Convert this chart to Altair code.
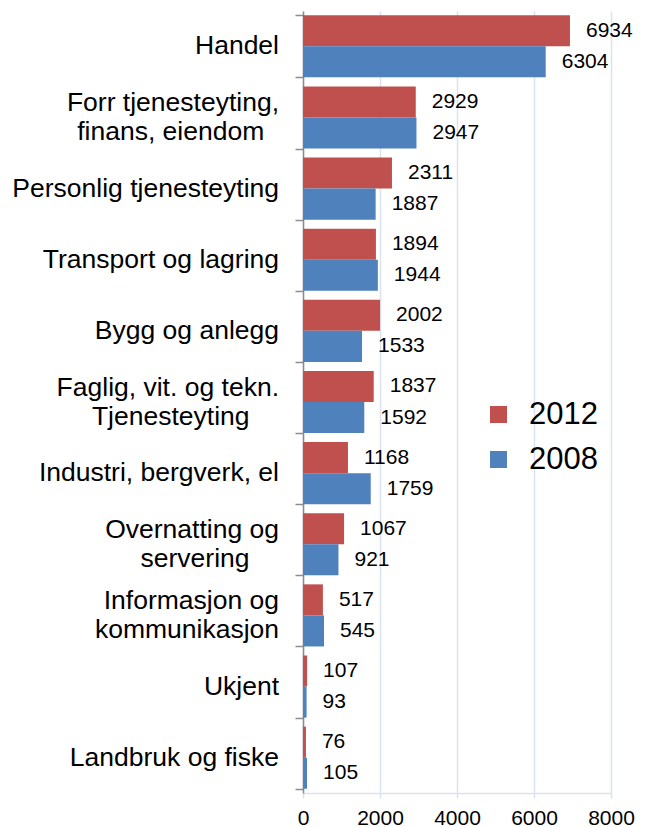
import altair as alt
import pandas as pd

PAD = "\u00a0"
END = "\u200b"
categories = [
    "Handel",
    "Forr tjenesteyting,\nfinans, eiendom" + PAD * 2 + END,
    "Personlig tjenesteyting",
    "Transport og lagring",
    "Bygg og anlegg",
    "Faglig, vit. og tekn.\nTjenesteyting" + PAD * 4 + END,
    "Industri, bergverk, el",
    "Overnatting og\nservering" + PAD * 4 + END,
    "Informasjon og\nkommunikasjon",
    "Ukjent",
    "Landbruk og fiske",
]
values_2012 = [6934, 2929, 2311, 1894, 2002, 1837, 1168, 1067, 517, 107, 76]
values_2008 = [6304, 2947, 1887, 1944, 1533, 1592, 1759, 921, 545, 93, 105]
series = ["2012", "2008"]
colors = ["#C0504D", "#4F81BD"]
x_ticks = [0, 2000, 4000, 6000, 8000]

rows = []
for c, a, b in zip(categories, values_2012, values_2008):
    rows.append({"cat": c, "year": "2012", "value": a})
    rows.append({"cat": c, "year": "2008", "value": b})
df = pd.DataFrame(rows)
cat_df = pd.DataFrame({"cat": categories})

FONT = "Liberation Sans"
GRID = "#D9E2F1"
AXIS_GREY = "#8C8C8C"
LINE_H = 29

y_enc = alt.Y(
    "cat:N",
    sort=categories,
    scale=alt.Scale(paddingInner=0.127, paddingOuter=0.06),
    axis=alt.Axis(
        title=None,
        labels=False,
        tickSize=8,
        tickColor=AXIS_GREY,
        domainColor=AXIS_GREY,
        domainWidth=1.5,
        tickWidth=1.5,
        tickBand="extent",
        grid=False,
    ),
)
y_off = alt.YOffset("year:N", sort=series, scale=alt.Scale(domain=series))
x_enc = alt.X(
    "value:Q",
    scale=alt.Scale(domain=[0, 8000]),
    axis=alt.Axis(
        title=None,
        values=x_ticks,
        format="d",
        grid=True,
        gridColor=GRID,
        gridWidth=1.5,
        domainColor=GRID,
        domainWidth=1.5,
        tickColor=GRID,
        tickWidth=1.5,
        tickSize=5,
        labelFont=FONT,
        labelFontSize=21,
        labelColor="black",
        labelPadding=9,
        labelFlush=False,
    ),
)

base = alt.Chart(df)
bars = base.mark_bar().encode(
    x=x_enc,
    y=y_enc,
    yOffset=y_off,
    color=alt.Color(
        "year:N",
        scale=alt.Scale(domain=series, range=colors),
        legend=alt.Legend(
            title=None,
            orient="none",
            legendX=180,
            legendY=388,
            symbolType="square",
            symbolSize=289,
            symbolStrokeWidth=0,
            labelFont=FONT,
            labelFontSize=31,
            labelColor="black",
            labelOffset=15,
            rowPadding=13,
            padding=0,
        ),
    ),
)
labels = base.mark_text(
    align="left", baseline="middle", dx=16, fontSize=21, font=FONT, color="black"
).encode(
    x=alt.X("value:Q"),
    y=alt.Y("cat:N", sort=categories),
    yOffset=y_off,
    text=alt.Text("value:Q", format="d"),
)

cat_base = alt.Chart(cat_df)
cat_text_kw = dict(
    align="right",
    baseline="middle",
    fontSize=26.5,
    font=FONT,
    color="black",
    lineBreak="\n",
    lineHeight=LINE_H,
)
single_line = (
    cat_base.transform_filter("indexof(datum.cat, '\\n') < 0")
    .mark_text(**cat_text_kw)
    .encode(x=alt.value(-24), y=alt.Y("cat:N", sort=categories), text="cat:N")
)
two_line = (
    cat_base.transform_filter("indexof(datum.cat, '\\n') >= 0")
    .mark_text(dy=-LINE_H / 2, **cat_text_kw)
    .encode(x=alt.value(-24), y=alt.Y("cat:N", sort=categories), text="cat:N")
)

chart = (
    alt.layer(bars, labels, single_line, two_line)
    .properties(
        width=308,
        height=782,
        padding={"left": 295, "top": 3, "right": 26, "bottom": 36},
        autosize=alt.AutoSizeParams(type="none"),
    )
    .configure_view(stroke=None)
)

chart.save("out.html", embed_options={"renderer": "svg", "actions": False})
